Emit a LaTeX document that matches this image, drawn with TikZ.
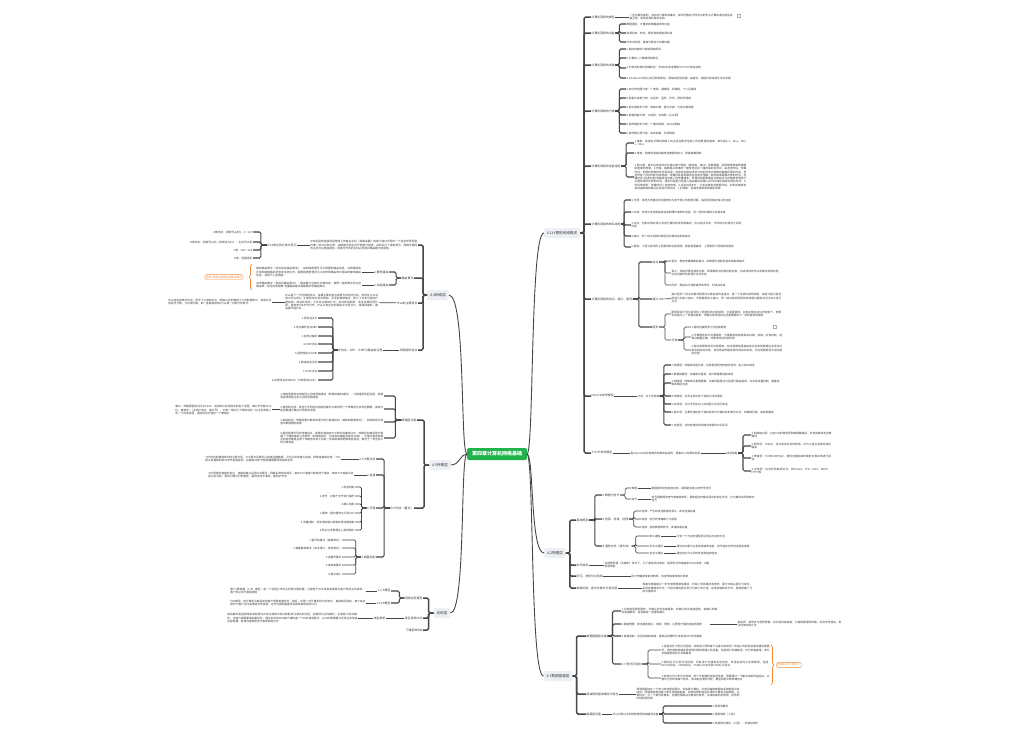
\documentclass[tikz,border=0pt]{standalone}
\usepackage{fontspec}
\setmainfont{Noto Sans CJK SC}
\usetikzlibrary{decorations.pathreplacing}
\XeTeXlinebreaklocale "zh"
\XeTeXlinebreakskip=0pt plus 1pt
\definecolor{lnc}{HTML}{474747}
\definecolor{txc}{HTML}{3A3A3A}
\definecolor{hdbg}{HTML}{ECEFF4}
\definecolor{rootg}{HTML}{22B24C}
\definecolor{org}{HTML}{F28A3C}
\newcommand\brR[4][]{\foreach \ch in {#4}{\draw[lnb,#1] (#2.east) -- ++(#3,0) |- (\ch.west);}}
\newcommand\brL[4][]{\foreach \ch in {#4}{\draw[lnb,#1] (#2.west) -- ++(-#3,0) |- (\ch.east);}}
\tikzset{
  every node/.style={inner sep=0.6pt,outer sep=0pt,text=txc},
  t/.style={font=\fontsize{2.7}{3.3}\selectfont,anchor=west},
  tl/.style={font=\fontsize{2.7}{3.3}\selectfont,anchor=east},
  para/.style={t,align=left,text width=#1},
  parl/.style={tl,align=left,text width=#1},
  l2/.style={font=\fontsize{2.9}{3.4}\selectfont,anchor=west},
  l2l/.style={font=\fontsize{2.9}{3.4}\selectfont,anchor=east},
  hd/.style={font=\fontsize{3.6}{4}\selectfont,fill=hdbg,rounded corners=1.5pt,inner xsep=3pt,minimum height=10pt},
  root/.style={font=\fontsize{5}{6}\selectfont\bfseries,fill=rootg,text=white,rounded corners=2pt,minimum width=60pt,minimum height=12pt},
  lnb/.style={draw=lnc,line width=0.7pt,rounded corners=1.5pt},
  ln1/.style={line width=1.5pt},
  ln2/.style={line width=1.05pt},
  lnr/.style={draw=lnc,line width=0.9pt},
  icon/.style={draw=gray,fill=white,minimum size=3.2pt,inner sep=0pt,rounded corners=0.4pt},
  obox/.style={draw=org,text=org,rounded corners=1.5pt,font=\fontsize{2.7}{3.3}\selectfont,inner sep=1.2pt},
  obr/.style={draw=org,line width=0.7pt,decorate,decoration={brace,amplitude=3pt}}
}
\begin{document}
\begin{tikzpicture}[x=1pt,y=-1pt]
\fill[white] (0,0) rectangle (1028,736);
\useasboundingbox (0,0) rectangle (1028,736);

% ---------------- root -----------------
\node[root] (root) at (497,454) {第四章计算机网络基础};

% ---------------- A: overview ----------------
\node[hd] (hA) at (562,233) {4.1计算机网络概述};
\node[l2] (a1) at (591,17) {计算机网络的概念};
\node[para=103pt] (a1t) at (629,17) {一些互相连接的、自治的计算机的集合，即将分散在不同地点的多台计算机通过通信线路互连，实现资源共享的系统。};
\node[icon] (ic1) at (739,16) {};
\draw[lnb] (a1) -- (a1t);

\node[l2] (a2) at (591,33) {计算机网络的功能};
\node[t] (a21) at (626,24) {数据通信：计算机网络最基本的功能};
\node[t] (a22) at (626,33) {资源共享：软件、硬件和数据资源共享};
\node[t] (a23) at (626,42) {分布式处理：提高可靠性与负载均衡};
\brR[ln2]{a2}{4}{a21,a22,a23}

\node[l2] (a3) at (591,65) {计算机网络的发展};
\node[t] (a31) at (626,49) {1.面向终端的计算机网络阶段};
\node[t] (a32) at (626,58) {2.计算机—计算机网络阶段};
\node[t] (a33) at (626,68) {3.开放式标准化网络阶段：形成OSI参考模型与TCP/IP体系结构};
\node[para=108pt] (a34) at (626,78) {4.以Internet为核心的互联网阶段：网络向全球范围、高速化、智能化和综合化方向发展};
\brR[ln2]{a3}{4}{a31,a32,a33,a34}

\node[l2] (a4) at (591,111) {计算机网络的分类};
\node[t] (a41) at (626,89) {1.按分布范围分类：广域网、城域网、局域网、个人区域网};
\node[t] (a42) at (626,98) {2.按拓扑结构分类：总线形、星形、环形、网状形网络};
\node[t] (a43) at (626,107) {3.按交换技术分类：电路交换、报文交换、分组交换网络};
\node[t] (a44) at (626,115) {4.按使用者分类：公用网、专用网（企业网）};
\node[t] (a45) at (626,124) {5.按传输技术分类：广播式网络、点对点网络};
\node[t] (a46) at (626,133) {6.按传输介质分类：有线网络、无线网络};
\brR[ln2]{a4}{4}{a41,a42,a43,a44,a45,a46}

\node[l2] (a5) at (591,166) {计算机网络的性能指标};
\node[para=112pt] (a51) at (634,143) {1.速率：连接在计算机网络上的主机在数字信道上传送数据的速率，单位是b/s、kb/s、Mb/s、Gb/s};
\node[t] (a52) at (634,153) {2.带宽：网络的通信线路传送数据的能力，即最高数据率};
\node[para=112pt] (a53) at (634,177) {3.吞吐量：表示在单位时间内通过某个网络（或信道、接口）的数据量，受网络带宽或网络额定速率的限制。4.时延：指数据从网络的一端传送到另一端所需的总时间，由发送时延、传播时延、处理时延和排队时延组成。发送时延是结点将分组的所有比特推向链路所需的时间，发送时延=分组长度/信道宽度；传播时延是电磁波在信道中传播一定的距离需要花费的时间，传播时延=信道长度/电磁波在信道上的传播速率；处理时延是数据在交换结点为存储转发而进行必要处理所花费的时间；排队时延是分组进入路由器后在输入队列中排队等待处理的时间。5.时延带宽积：传播时延×信道带宽。6.往返时延RTT：从发送端发送数据开始，到发送端收到来自接收端的确认总共经历的时延。7.利用率：信道利用率和网络利用率。};
\brR[ln2]{a5}{5}{a51,a52,a53}

\node[l2] (a6) at (591,224) {计算机网络的体系结构};
\node[para=110pt] (a61) at (631,200) {1.分层：将庞大而复杂的问题转化为若干较小的局部问题，每层实现相对独立的功能};
\node[para=110pt] (a62) at (631,212) {2.实体：任何可发送或接收信息的硬件或软件进程，同一层的实体称为对等实体};
\node[para=110pt] (a63) at (631,225) {3.协议：控制对等实体之间进行通信的规则的集合，协议是水平的，不同结点对等层之间的约定};
\node[t] (a64) at (631,236) {4.接口：同一结点内相邻两层间交换信息的连接点};
\node[para=110pt] (a65) at (631,247) {5.服务：下层为紧邻的上层提供的功能调用，服务是垂直的，上层使用下层提供的服务};
\brR[ln2]{a6}{3}{a61,a62,a63,a64,a65}

\node[l2] (a7) at (591,299) {计算机网络的协议、接口、服务};
\node[l2] (a71) at (652,262) {协议};
\node[l2] (a72) at (652,299) {接口};
\node[l2] (a73) at (652,327) {服务};
\brR[ln2]{a7}{6}{a71,a72,a73}
\node[para=110pt] (a711) at (671,261) {语法：规定传输数据的格式，即数据与控制信息的结构或格式};
\node[para=110pt] (a712) at (671,273) {语义：规定所要完成的功能，即需要发出何种控制信息、完成何种动作以及做出何种应答，以及出错时的处理方法与约定};
\node[t] (a713) at (671,285) {同步：规定执行各种操作的条件、时序关系等};
\brR{a71}{6}{a711,a712,a713}
\node[para=110pt] (a721) at (671,298) {接口是同一结点内相邻两层间交换信息的连接点，是一个系统内部的规定，每层只能为紧邻的层之间定义接口，不能跨层定义接口，同一结点相邻两层的实体通过服务访问点SAP进行交互};
\draw[lnb] (a72) -- (a721);
\node[para=110pt] (a731) at (671,314) {服务是指下层为紧邻的上层提供的功能调用，它是垂直的。对等实体在协议的控制下，使得本层能为上一层提供服务，但要实现本层协议还需要使用下一层所提供的服务};
\node[l2] (a732) at (671,340) {分类};
\brR{a73}{6}{a731,a732}
\node[t] (a7321) at (691,327) {1.面向连接服务与无连接服务};
\node[icon] (ic2) at (775,327) {};
\node[para=91pt] (a7322) at (691,337) {2.可靠服务和不可靠服务：可靠服务指网络具有纠错、检错、应答机制，能保证数据正确、可靠地传送到目的地};
\node[para=91pt] (a7323) at (691,350) {3.有应答服务和无应答服务：有应答服务是指接收方在收到数据后向发送方给出相应的应答，该应答由传输系统内部自动实现；无应答服务则不自动给出应答};
\brR{a732}{6}{a7321,a7322,a7323}

\node[l2] (a8) at (591,396) {ISO/OSI参考模型};
\node[t] (a8s) at (637,396) {分层：共七层结构};
\draw[lnb] (a8) -- (a8s);
\node[t] (a81) at (671,365) {1.物理层：传输单位是比特，任务是透明地传输比特流，定义接口特性};
\node[t] (a82) at (671,374) {2.数据链路层：传输单位是帧，将IP数据报组装成帧};
\node[para=108pt] (a83) at (671,383) {3.网络层：传输单位是数据报，关键问题是对分组进行路由选择，并实现流量控制、拥塞控制和网际互连};
\node[t] (a84) at (671,396) {4.传输层：负责主机中两个进程之间的通信};
\node[t] (a85) at (671,404) {5.会话层：允许不同主机上的进程之间进行会话};
\node[para=108pt] (a86) at (671,412) {6.表示层：主要处理在两个通信系统中交换信息的表示方式，如数据压缩、加密和解密};
\node[t] (a87) at (671,425) {7.应用层：为特定类型的网络应用提供访问手段};
\brR[ln2]{a8s}{4}{a81,a82,a83,a84,a85,a86,a87}

\node[l2] (a9) at (591,453) {TCP/IP参考模型};
\node[t] (a9t) at (630,453) {是Internet实际使用的网络体系结构，是事实上的国际标准};
\node[t] (a9s) at (726,453) {四层结构};
\draw[lnb] (a9) -- (a9t);
\draw[lnb] (a9t) -- (a9s);
\node[para=80pt] (a91) at (751,435) {1.网络接口层：对应OSI的物理层和数据链路层，负责接收和发送数据帧};
\node[para=80pt] (a92) at (751,446) {2.网际层：IP协议，将分组发往任何网络，并为之独立选择合适的路由};
\node[para=80pt] (a93) at (751,458) {3.传输层：TCP和UDP协议，使发送端和目的端的对等实体进行会话};
\node[para=80pt] (a94) at (751,471) {4.应用层：包含所有高层协议，如Telnet、FTP、DNS、SMTP、HTTP等};
\brR[ln2]{a9s}{5}{a91,a92,a93,a94}

\brR[ln1]{hA}{4}{a1,a2,a3,a4,a5,a6,a7,a8,a9}

% ---------------- B: physical layer ----------------
\node[hd] (hB) at (555,553) {4.2物理层};
\node[l2] (b1) at (576,520) {基本概念};
\node[l2] (b11) at (602,495) {1.数据与信号};
\node[l2] (b12) at (602,519) {2.信源、信道、信宿};
\node[l2] (b13) at (602,546) {3.通信方式（按方向）};
\brR[ln2]{b1}{6}{b11,b12,b13}
\node[t] (b111) at (631,488) {数据};
\node[t] (b112) at (631,499) {信号};
\brR{b11}{5}{b111,b112}
\node[t] (b111t) at (651,488) {数据是传送信息的实体，通常是有意义的符号序列};
\node[para=103pt] (b112t) at (651,499) {信号是数据的电气或电磁表现，是数据在传输过程中的存在形式，分为模拟信号和数字信号};
\draw[lnb] (b111) -- (b111t);
\draw[lnb] (b112) -- (b112t);
\node[t] (b121) at (641,511) {信源：产生和发送数据的源头，即发送端设备};
\node[t] (b122) at (641,519) {信道：信号的传输媒介与通道};
\node[t] (b123) at (641,527) {信宿：接收数据的终点，即接收端设备};
\brR{b12}{5}{b121,b122,b123}
\node[t] (b131) at (649,536) {单工通信};
\node[t] (b132) at (649,546) {半双工通信};
\node[t] (b133) at (649,553) {全双工通信};
\brR{b13}{4}{b131,b132,b133}
\node[t] (b131t) at (676,536) {只有一个方向的通信而没有反方向的交互};
\node[t] (b132t) at (676,546) {通信双方都可以发送或接收信息，但不能双方同时发送和接收};
\node[t] (b133t) at (676,553) {通信双方可以同时发送和接收信息};
\draw[lnb] (b131) -- (b131t);
\draw[lnb] (b132) -- (b132t);
\draw[lnb] (b133) -- (b133t);
\node[l2] (b2) at (576,565) {奈氏准则};
\node[para=105pt] (b2t) at (604,565) {在理想低通（无噪声）条件下，为了避免码间串扰，极限码元传输速率为2W波特，W是信道带宽};
\draw[lnb] (b2) -- (b2t);
\node[l2] (b3) at (576,576) {码元、波特与比特率};
\node[t] (b3t) at (631,576) {码元传输速率即波特率，信息传输速率即比特率};
\draw[lnb] (b3) -- (b3t);
\node[l2] (b4) at (576,588) {电路交换、报文交换与分组交换};
\node[para=110pt] (b4t) at (642,588) {电路交换需建立一条专用物理通信路径，时延小但线路利用率低；报文交换以报文为单位，采用存储转发方式；分组交换将报文划分为较小的分组，采用存储转发方式，是使用最广泛的交换技术};
\draw[lnb] (b4) -- (b4t);
\brR[ln1]{hB}{4}{b1,b2,b3,b4}

% ---------------- C: data link layer ----------------
\node[hd] (hC) at (558,676) {4.3数据链路层};
\node[l2] (c1) at (586,636) {数据链路层功能};
\node[para=96pt] (c11) at (621,611) {1.为网络层提供服务：无确认的无连接服务、有确认的无连接服务、有确认的面向连接服务，有连接就一定要有确认};
\node[para=88pt] (c12) at (621,624) {2.链路管理：即连接的建立、维持、释放，主要用于面向连接的服务};
\node[para=104pt] (c12b) at (737,624) {帧定界、帧同步与透明传输：将分组封装成帧，为使数据透明传输，采用字符填充、零比特填充等方法};
\draw[lnb] (c12) -- (c12b);
\node[para=96pt] (c13) at (621,636) {3.差错控制：包括位错和帧错，通常采用循环冗余校验CRC检测差错};
\node[l2] (c14) at (621,664) {4.介质访问控制};
\brR[ln2]{c1}{5}{c11,c12,c13,c14}
\node[para=108pt] (c141) at (661,650) {1.信道划分介质访问控制：将使用介质的每个设备与来自同一信道上的其他设备的通信隔离开，把时域和频域资源合理分配给网络上的设备，包括频分多路复用、时分多路复用、波分多路复用和码分多路复用};
\node[para=108pt] (c142) at (661,664) {2.随机访问介质访问控制：所有用户可随机发送信息，发送信息时占全部带宽，包括ALOHA协议、CSMA协议、CSMA/CD协议和CSMA/CA协议};
\node[para=108pt] (c143) at (661,678) {3.轮询访问介质访问控制：用户不能随机地发送信息，而要通过一个集中控制的监控站，以循环方式轮询每个结点，再决定信道的分配，典型的是令牌传递协议};
\brR{c14}{6}{c141,c142,c143}
\draw[obr] (771,645) -- (771,685);
\node[obox] (c1o) at (789,665) {CSMA/CD（重点）};
\node[l2] (c2) at (586,694) {局域网的基本概念与特点};
\node[para=103pt] (c2t) at (636,694) {局域网是指在一个较小的地理范围内，将各种计算机、外部设备和数据库系统等通过双绞线、同轴电缆等连接介质互相连接起来，组成资源和信息共享的计算机互联网络。主要特点：为一个单位所拥有，地理范围和站点数目均有限；共享较高的总带宽；较低的时延和误码率};
\draw[lnb] (c2) -- (c2t);
\node[l2] (c3) at (586,714) {链路层设备};
\node[t] (c3t) at (612,714) {可以扩展以太网的物理层和链路层设备};
\draw[lnb] (c3) -- (c3t);
\node[t] (c31) at (712,706) {1.网桥的概念};
\node[t] (c32) at (712,714) {2.透明网桥（二层）};
\node[t] (c33) at (712,723) {3.局域网交换机（二层）：多端口网桥};
\brR[ln2]{c3t}{4}{c31,c32,c33}
\brR[ln1]{hC}{4}{c1,c2,c3}

% ---------------- D: network layer (left top) ----------------
\node[hd] (hD) at (438,295) {4.4网络层};
\node[parl=107pt] (d1) at (418,245) {IP地址是给连接到因特网上的每台主机（或路由器）的每个接口分配的一个在全世界范围内唯一的32位标识符，由网络号和主机号两部分组成，采用点分十进制表示。网络号相同的主机可以直接通信，网络号不同的主机必须通过路由器才能通信。};
\node[l2l] (d1l) at (297,245) {IPv4地址的分类与表示};
\draw[lnb] (d1) -- (d1l);
\node[tl] (d11) at (253,232) {A类地址：网络号占8位，0～127};
\node[tl] (d12) at (253,242) {B类地址：网络号16位（前两位为10），主机号16位};
\node[tl] (d13) at (253,250) {C类：192～223};
\node[tl] (d14) at (253,258) {D类：组播地址};
\brL[ln2]{d1l}{6}{d11,d12,d13,d14}

\node[l2l] (d2) at (414,278) {路由算法};
\node[l2l] (d21) at (389,272) {1.静态路由};
\node[l2l] (d22) at (389,285) {2.动态路由};
\brL[ln2]{d2}{5}{d21,d22}
\node[parl=105pt] (d21t) at (362,272) {静态路由算法（非自适应路由算法）：由网络管理员手工配置的路由信息，当网络的拓扑结构或链路的状态发生变化时，需要网络管理员手工去修改路由表中相关的静态路由信息，适用于小型网络。};
\node[parl=105pt] (d22t) at (362,285) {动态路由算法（自适应路由算法）：路由器之间彼此交换信息，按照一定的算法优化出路由表，常见的有距离-向量路由算法和链路状态路由算法。};
\draw[lnb] (d21) -- (d21t);
\draw[lnb] (d22) -- (d22t);
\draw[obr] (252,290) -- (252,264);
\node[obox] (d2o) at (224,277) {距离-向量与链路状态路由算法};

\node[l2l] (d3) at (418,303) {IPv6的主要特点};
\node[parl=93pt] (d3t) at (379,302) {IPv6是下一代互联网协议，其最主要的特点是更大的地址空间，将地址从32位增大到128位；扩展的地址层次结构；灵活的首部格式，定义了许多可选的扩展首部；改进的选项；允许协议继续扩充；支持即插即用；支持资源的预分配；首部改为8字节对齐。IPv6只有在包的源结点才能分片，是端到端的，路由器不能分片。};
\node[parl=103pt] (d3t2) at (272,302) {IPv6地址的表示形式：冒号十六进制记法，即每16位的值用十六进制值表示，各值之间用冒号分隔，允许零压缩，即一连串连续的0可以被一对冒号所取代。};
\draw[lnb] (d3) -- (d3t);
\draw[lnb] (d3t) -- (d3t2);

\node[l2l] (d4) at (418,350) {网络层的协议};
\node[l2l] (d4l) at (383,350) {IP协议、ARP、ICMP与路由协议等};
\draw[lnb] (d4) -- (d4l);
\node[tl] (d41) at (318,318) {1.网际协议IP};
\node[tl] (d42) at (318,327) {2.地址解析协议ARP};
\node[tl] (d43) at (318,336) {3.逆地址解析};
\node[tl] (d44) at (318,344) {4.ICMP协议};
\node[tl] (d45) at (318,353) {5.组管理协议IGMP};
\node[tl] (d46) at (318,362) {6.路由信息协议};
\node[tl] (d47) at (318,371) {7.OSPF协议};
\node[tl] (d48) at (318,380) {8.边界网关协议BGP（外部网关协议）};
\brL[ln2]{d4l}{5}{d41,d42,d43,d44,d45,d46,d47,d48}
\brL[ln1]{hD}{4}{d1,d2,d3,d4}

% ---------------- E: transport layer (left middle) ----------------
\node[hd] (hE) at (440,465) {4.5传输层};
\node[l2l] (e1) at (417,420) {传输层功能};
\node[parl=103pt] (e11) at (384,396) {1.传输层提供应用进程之间的逻辑通信（即端到端的通信），与网络层的区别是，网络层提供的是主机之间的逻辑通信};
\node[parl=103pt] (e12) at (384,409) {2.复用和分用：发送方不同的应用进程都可以使用同一个传输层协议传送数据，接收方能把数据正确交付到目的进程};
\node[parl=96pt] (e12t) at (272,410) {端口：传输层服务访问点TSAP，用来标识应用层中的各个进程，端口号长度为16位；套接字=（主机IP地址，端口号），它唯一地标识了网络中的一台主机和其上的一个应用进程，通信的双方各有一个套接字};
\draw[lnb] (e12) -- (e12t);
\node[parl=103pt] (e13) at (384,422) {3.差错检测：传输层要对收到的报文进行差错检测（首部和数据部分），而网络层只检查IP数据报的首部};
\node[parl=103pt] (e14) at (384,438) {4.提供两种不同的传输协议，即面向连接的TCP和无连接的UDP。传输层向高层用户屏蔽了下面网络核心的细节（如网络拓扑、所采用的路由选择协议等），它使应用进程看见的就好像是在两个传输层实体之间有一条端到端的逻辑通信信道，相当于一条全双工的可靠信道};
\brL[ln2]{e1}{6}{e11,e12,e13,e14}

\node[l2l] (e2) at (414,508) {TCP协议（重点）};
\node[l2l] (e21) at (376,459) {1.TCP报文段};
\node[l2l] (e22) at (376,475) {2.连接};
\node[l2l] (e23) at (376,508) {3.可靠};
\node[l2l] (e24) at (376,557) {4.拥塞控制};
\brL[ln2]{e2}{6}{e21,e22,e23,e24}
\node[parl=135pt] (e21t) at (341,459) {TCP传送的数据单元称为报文段，TCP报文段既可以用来运载数据，又可以用来建立连接、释放连接和应答。TCP报文段首部的前20字节是固定的，后面有4N字节是根据需要而增加的选项};
\node[parl=145pt] (e22t) at (354,475) {TCP是面向连接的协议，连接的建立采用三次握手，释放采用四次挥手。每条TCP连接只能有两个端点，每条TCP连接只能是点对点的，提供可靠交付的服务，提供全双工通信，面向字节流};
\draw[lnb] (e21) -- (e21t);
\draw[lnb] (e22) -- (e22t);
\node[tl] (e231) at (355,487) {1.校验机制};
\node[tl] (e232) at (355,496) {2.序号：对每个字节进行编号};
\node[tl] (e233) at (355,504) {3.确认机制};
\node[tl] (e234) at (355,513) {4.重传：超时重传与冗余ACK};
\node[tl] (e235) at (355,522) {5.流量控制：利用滑动窗口机制实现流量控制};
\node[tl] (e236) at (355,530) {6.防止过多数据注入到网络中};
\brL{e23}{5}{e231,e232,e233,e234,e235,e236}
\node[tl] (e241) at (342,540) {1.慢开始算法（指数增长）};
\node[tl] (e242) at (342,548) {2.拥塞避免算法（加法增大，线性增长）};
\node[tl] (e243) at (342,557) {3.快重传算法};
\node[tl] (e244) at (342,565) {4.快恢复算法};
\node[tl] (e245) at (342,574) {5.乘法减小};
\brL{e24}{5}{e241,e242,e243,e244,e245}
\brL[ln1]{hE}{5}{e1,e2}

% ---------------- F: application layer (left bottom) ----------------
\node[hd] (hF) at (442,613) {应用层};
\node[l2l] (f1) at (423,598) {网络应用模型};
\node[l2l] (f11) at (391,591) {1.C/S模型};
\node[l2l] (f12) at (391,603) {2.P2P模型};
\brL[ln2]{f1}{5}{f11,f12}
\node[parl=135pt] (f11t) at (366,591) {客户/服务器（C/S）模型：有一个总是打开的主机称为服务器，它服务于许多来自其他称为客户机的主机请求，客户机之间不直接通信};
\node[parl=135pt] (f12t) at (366,603) {P2P模型：各计算机没有固定的客户和服务器划分，相反，任意一对计算机称为对等方，直接相互通信。每个结点既作为客户访问其他结点的资源，也作为服务器提供资源给其他结点访问};
\draw[lnb] (f11) -- (f11t);
\draw[lnb] (f12) -- (f12t);
\node[l2l] (f2) at (423,618) {域名系统DNS};
\node[l2l] (f2l) at (386,618) {域名解析};
\draw[lnb] (f2) -- (f2l);
\node[parl=130pt] (f2t) at (358,618) {域名解析是指把域名映射成为IP地址或把IP地址映射成为域名的过程，前者称为正向解析，后者称为反向解析。当客户端需要域名解析时，通过本机的DNS客户端构造一个DNS请求报文，以UDP数据报方式发往本地域名服务器，有递归查询和迭代查询两种方式};
\draw[lnb] (f2l) -- (f2t);
\node[l2l] (f3) at (423,630) {万维网WWW};
\brL[ln1]{hF}{5}{f1,f2,f3}

% ---------------- root links ----------------
\draw[lnr] (root.east) .. controls (534,454) and (530,233) .. (hA.west);
\draw[lnr] (root.east) .. controls (534,454) and (530,553) .. (hB.west);
\draw[lnr] (root.east) .. controls (534,454) and (530,676) .. (hC.west);
\draw[lnr] (root.west) .. controls (460,454) and (466,295) .. (hD.east);
\draw[lnr] (root.west) .. controls (460,454) and (460,465) .. (hE.east);
\draw[lnr] (root.west) .. controls (460,454) and (466,613) .. (hF.east);
\end{tikzpicture}
\end{document}
